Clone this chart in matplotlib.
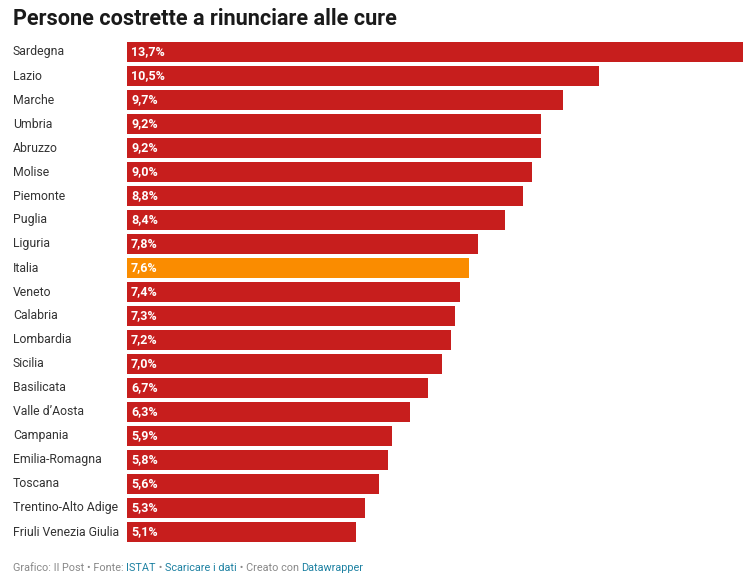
import matplotlib
matplotlib.use("Agg")
import matplotlib.pyplot as plt

# data
regions = ["Sardegna", "Lazio", "Marche", "Umbria", "Abruzzo", "Molise", "Piemonte",
           "Puglia", "Liguria", "Italia", "Veneto", "Calabria", "Lombardia", "Sicilia",
           "Basilicata", "Valle d’Aosta", "Campania", "Emilia-Romagna", "Toscana",
           "Trentino-Alto Adige", "Friuli Venezia Giulia"]
values = [13.7, 10.5, 9.7, 9.2, 9.2, 9.0, 8.8, 8.4, 7.8, 7.6, 7.4, 7.3, 7.2, 7.0,
          6.7, 6.3, 5.9, 5.8, 5.6, 5.3, 5.1]
highlight = "Italia"

RED = "#c71e1d"
ORANGE = "#fa8c00"

plt.rcParams["font.family"] = ["Roboto", "DejaVu Sans"]

W, H = 751, 584
fig = plt.figure(figsize=(W / 100, H / 100), dpi=100)
ax = fig.add_axes([127 / W, 1 - 542 / H, 616 / W, 500 / H])

bh = 20 / 24
ypos = list(range(len(regions)))
colors = [ORANGE if r == highlight else RED for r in regions]
ax.barh(ypos, values, height=bh, color=colors)
ax.set_xlim(0, max(values))
ax.set_ylim(len(regions) - 1 + bh / 2, -bh / 2)
ax.axis("off")

px = max(values) / 616  # data units per pixel
for y, r, v in zip(ypos, regions, values):
    ax.text(-114 * px, y, r, ha="left", va="center",
            fontsize=8.8, color="#333333")
    ax.text(4 * px, y, f"{v:.1f}%".replace(".", ","), ha="left", va="center",
            fontsize=9, color="white", fontweight="bold")

fig.text(13 / W, 1 - 19 / H, "Persone costrette a rinunciare alle cure",
         fontsize=15.6, fontweight="bold", color="#1a1a1a", va="center", ha="left")

# footer with coloured pieces
pieces = [("Grafico: Il Post • Fonte: ", "#888888"), ("ISTAT", "#1d81a2"),
          (" • ", "#888888"), ("Scaricare i dati", "#1d81a2"),
          (" • Creato con ", "#888888"), ("Datawrapper", "#1d81a2")]
fig.canvas.draw()
renderer = fig.canvas.get_renderer()
x = 13
for txt, col in pieces:
    t = fig.text(x / W, 1 - 568 / H, txt, fontsize=7.8, color=col, va="center", ha="left")
    bb = t.get_window_extent(renderer=renderer)
    x += bb.width

fig.savefig("out.png", dpi=100)
